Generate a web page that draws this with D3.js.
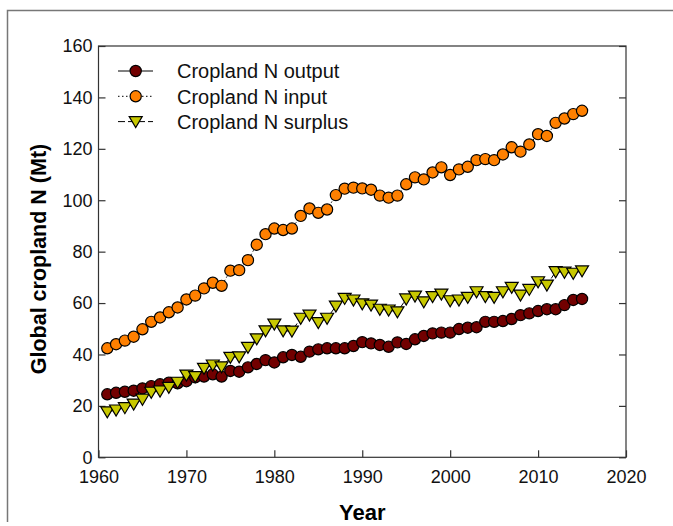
<!DOCTYPE html>
<html>
<head>
<meta charset="utf-8">
<script src="https://cdn.jsdelivr.net/npm/d3@7"></script>
<style>
  body { margin: 0; background: #fff; }
  svg { display: block; font-family: "Liberation Sans", Arial, sans-serif; }
</style>
</head>
<body>
<svg width="673" height="526"></svg>
<script>
var years = d3.range(1961, 2016);
var cropOutput = [24.5, 25.1, 25.5, 25.9, 26.8, 27.7, 28.4, 29.0, 28.8, 29.6,
  31.1, 31.4, 32.3, 31.4, 33.6, 33.3, 35.0, 36.3, 37.8, 36.9,
  38.9, 39.8, 39.1, 41.1, 42.0, 42.4, 42.4, 42.4, 43.3, 44.8,
  44.3, 43.7, 43.0, 44.7, 44.1, 45.9, 47.2, 48.2, 48.5, 48.5,
  49.9, 50.4, 50.6, 52.7, 52.7, 53.0, 53.8, 55.3, 56.0, 56.9,
  57.6, 57.6, 59.2, 61.2, 61.6];
var cropInput = [42.4, 44.0, 45.4, 46.9, 49.8, 52.7, 54.4, 56.4, 58.3, 61.4,
  62.9, 65.7, 67.9, 66.7, 72.6, 72.8, 76.7, 82.7, 86.8, 89.0,
  88.4, 89.0, 93.9, 96.8, 95.1, 96.4, 102.0, 104.5, 104.9, 104.6,
  104.1, 101.8, 101.0, 101.8, 106.2, 108.9, 108.1, 110.8, 112.8, 109.8,
  112.0, 113.0, 115.6, 116.0, 115.6, 117.8, 120.6, 118.9, 121.7, 125.7,
  125.0, 130.1, 131.8, 133.5, 134.8];
var cropSurplus = [17.7, 18.4, 19.3, 20.7, 22.6, 25.3, 25.8, 27.2, 29.2, 32.0,
  31.4, 34.6, 35.9, 35.2, 38.9, 39.1, 42.8, 46.1, 49.2, 51.8,
  49.2, 49.1, 54.1, 55.3, 52.4, 54.1, 58.8, 61.8, 61.2, 59.7,
  59.2, 57.6, 57.3, 56.6, 61.6, 62.7, 60.5, 62.5, 63.5, 60.9,
  61.2, 62.2, 64.4, 62.5, 62.2, 64.4, 66.1, 63.1, 65.3, 68.3,
  67.0, 72.2, 72.0, 71.6, 72.5];
var xTicks = [1960, 1970, 1980, 1990, 2000, 2010, 2020];
var yTicks = [0, 20, 40, 60, 80, 100, 120, 140, 160];
var seriesNames = ['Cropland N output', 'Cropland N input', 'Cropland N surplus'];

var svg = d3.select('svg');
// note: can't call these top/left, window.top is read only
var plotLeft = 98.5, plotRight = 626, plotTop = 46, plotBottom = 457.3;

var x = d3.scaleLinear().domain([1960, 2020]).range([plotLeft, plotRight]);
var y = d3.scaleLinear().domain([0, 160]).range([plotBottom, plotTop]);

// outer figure frame (only top and left edges show in the picture)
svg.append('path')
  .attr('d', 'M7.5,522 L7.5,10.5 L673,10.5')
  .attr('fill', 'none')
  .attr('stroke', '#777')
  .attr('stroke-width', 1.5);

// plot box
svg.append('rect')
  .attr('x', plotLeft).attr('y', plotTop)
  .attr('width', plotRight - plotLeft).attr('height', plotBottom - plotTop)
  .attr('fill', 'none')
  .attr('stroke', '#333')
  .attr('stroke-width', 1.2);

var xAxis = svg.append('g')
  .attr('transform', 'translate(0,' + plotBottom + ')')
  .call(d3.axisBottom(x).tickValues(xTicks).tickFormat(d3.format('d')).tickSizeInner(-7).tickSizeOuter(0).tickPadding(13));
var yAxis = svg.append('g')
  .attr('transform', 'translate(' + plotLeft + ',0)')
  .call(d3.axisLeft(y).tickValues(yTicks).tickSizeInner(-7).tickSizeOuter(0).tickPadding(6));
var yAxisRight = svg.append('g')
  .attr('transform', 'translate(' + plotRight + ',0)')
  .call(d3.axisRight(y).tickValues(yTicks).tickSizeInner(-7).tickSizeOuter(0).tickFormat(''));

[xAxis, yAxis, yAxisRight].forEach(function(g) {
  g.select('.domain').remove();
  g.selectAll('line').attr('stroke', '#333').attr('stroke-width', 1.2);
  g.selectAll('text').attr('font-size', 18).attr('fill', '#111')
    .attr('font-family', '"Liberation Sans", Arial, sans-serif');
});

// axis titles
svg.append('text')
  .attr('x', (plotLeft + plotRight) / 2)
  .attr('y', 520)
  .attr('text-anchor', 'middle')
  .attr('font-size', 22)
  .attr('font-weight', 'bold')
  .text('Year');
svg.append('text')
  .attr('transform', 'translate(46,259) rotate(-90)')
  .attr('text-anchor', 'middle')
  .attr('font-size', 21.5)
  .attr('font-weight', 'bold')
  .text('Global cropland N (Mt)');

// triangle pointing down
var triPath = 'M-6.5,-5 L6.5,-5 L0,6 Z';

var series = [
  {name: seriesNames[0], values: cropOutput, color: '#720000', dash: null, shape: 'circle'},
  {name: seriesNames[1], values: cropInput, color: '#ff8000', dash: '1.5,2.5', shape: 'circle'},
  {name: seriesNames[2], values: cropSurplus, color: '#c8c800', dash: '7,3', shape: 'tri'}
];

var line = d3.line()
  .x(function(d) { return x(d[0]); })
  .y(function(d) { return y(d[1]); });

series.forEach(function(s) {
  var pts = years.map(function(yr, i) { return [yr, s.values[i]]; });
  svg.append('path')
    .attr('d', line(pts))
    .attr('fill', 'none')
    .attr('stroke', '#000')
    .attr('stroke-width', 1)
    .attr('stroke-dasharray', s.dash);
  var g = svg.append('g');
  if (s.shape == 'circle') {
    g.selectAll('circle').data(pts).enter().append('circle')
      .attr('cx', function(d) { return x(d[0]); })
      .attr('cy', function(d) { return y(d[1]); })
      .attr('r', 5.6)
      .attr('fill', s.color)
      .attr('stroke', '#000')
      .attr('stroke-width', 1.2);
  } else {
    g.selectAll('path').data(pts).enter().append('path')
      .attr('d', triPath)
      .attr('transform', function(d) { return 'translate(' + x(d[0]) + ',' + y(d[1]) + ')'; })
      .attr('fill', s.color)
      .attr('stroke', '#000')
      .attr('stroke-width', 1.2);
  }
});

// legend
var legend = svg.append('g');
series.forEach(function(s, i) {
  var ly = 71 + i * 25.3;
  legend.append('line')
    .attr('x1', 118).attr('x2', 153)
    .attr('y1', ly).attr('y2', ly)
    .attr('stroke', '#000')
    .attr('stroke-width', 1)
    .attr('stroke-dasharray', s.dash);
  if (s.shape == 'circle') {
    legend.append('circle')
      .attr('cx', 135.7).attr('cy', ly).attr('r', 5.6)
      .attr('fill', s.color).attr('stroke', '#000').attr('stroke-width', 1.2);
  } else {
    legend.append('path')
      .attr('d', triPath)
      .attr('transform', 'translate(135.7,' + ly + ')')
      .attr('fill', s.color).attr('stroke', '#000').attr('stroke-width', 1.2);
  }
  legend.append('text')
    .attr('x', 177)
    .attr('y', ly)
    .attr('dy', '0.36em')
    .attr('font-size', 20)
    .attr('fill', '#111')
    .text(s.name);
});
</script>
</body>
</html>
